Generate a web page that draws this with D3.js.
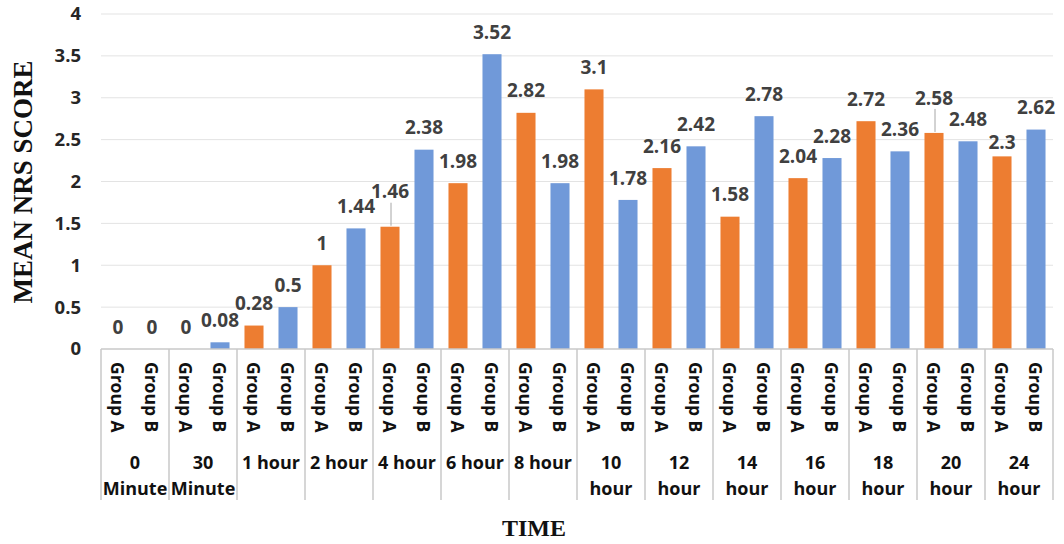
<!DOCTYPE html>
<html>
<head>
<meta charset="utf-8">
<script src="https://cdn.jsdelivr.net/npm/d3@7"></script>
<style>
  html, body { margin: 0; padding: 0; background: #fff; }
  svg { display: block; }
</style>
</head>
<body>
<svg id="chart" width="1064" height="544"></svg>
<script>
// ---- data ----
const categories = ["0\nMinute", "30\nMinute", "1 hour", "2 hour", "4 hour", "6 hour", "8 hour",
                    "10\nhour", "12\nhour", "14\nhour", "16\nhour", "18\nhour", "20\nhour", "24\nhour"];
const groups = ["Group A", "Group B"];
const groupA = [0, 0, 0.28, 1, 1.46, 1.98, 2.82, 3.1, 2.16, 1.58, 2.04, 2.72, 2.58, 2.3];
const groupB = [0, 0.08, 0.5, 1.44, 2.38, 3.52, 1.98, 1.78, 2.42, 2.78, 2.28, 2.36, 2.48, 2.62];
const yTicks = [0, 0.5, 1, 1.5, 2, 2.5, 3, 3.5, 4];
const yTitle = "MEAN NRS SCORE";
const xTitle = "TIME";
// manual label nudges (vertical, px) as in the source chart, with leader lines where moved up
const labelNudgeA = [0, 0, 0, 0, -13, 0, 0, 0, 0, 0, 0, 0, -13, 8];
const labelNudgeB = [0, 0, 0, 0, 0, 0, 0, 0, 0, 0, 0, 0, 0, 0];

const colors = { "Group A": "#ED7D31", "Group B": "#7099D9" };

const svg = d3.select("#chart");
const x = d3.scaleBand().domain(categories).range([101, 1053]).padding(0);
const xi = d3.scaleBand().domain(groups).range([0, x.bandwidth()]).paddingInner(0.44).paddingOuter(0.22);
const y = d3.scaleLinear().domain([0, 4]).range([349, 14]);

const labelFont = "'Open Sans', 'DejaVu Sans', sans-serif";

// gridlines
svg.append("g").selectAll("line").data(yTicks.filter(t => t > 0)).join("line")
  .attr("x1", 101).attr("x2", 1053)
  .attr("y1", d => y(d)).attr("y2", d => y(d))
  .attr("stroke", "#e3e3e3").attr("stroke-width", 1);

// y tick labels
svg.append("g").selectAll("text").data(yTicks).join("text")
  .attr("x", 81).attr("y", d => y(d)).attr("dy", "0.35em")
  .attr("text-anchor", "end")
  .attr("font-family", labelFont).attr("font-weight", 700).attr("font-size", 18.5)
  .attr("fill", "#262626")
  .text(d => String(d));

// bars
const rows = [];
categories.forEach((c, i) => {
  rows.push({ cat: c, grp: "Group A", v: groupA[i], nudge: labelNudgeA[i] });
  rows.push({ cat: c, grp: "Group B", v: groupB[i], nudge: labelNudgeB[i] });
});

svg.append("g").selectAll("rect").data(rows).join("rect")
  .attr("x", d => x(d.cat) + xi(d.grp))
  .attr("width", xi.bandwidth())
  .attr("y", d => y(d.v))
  .attr("height", d => y(0) - y(d.v))
  .attr("fill", d => colors[d.grp]);

// data labels
const lg = svg.append("g");
rows.forEach(d => {
  const cx = x(d.cat) + xi(d.grp) + xi.bandwidth() / 2;
  const cy = y(d.v) - 22 + d.nudge;
  lg.append("text")
    .attr("x", cx).attr("y", cy).attr("dy", "0.35em")
    .attr("text-anchor", "middle")
    .attr("font-family", labelFont).attr("font-weight", 700).attr("font-size", 19)
    .attr("fill", "#404040")
    .text(String(d.v));
  if (d.nudge < 0) {
    lg.append("line")
      .attr("x1", cx + 1).attr("x2", cx + 1)
      .attr("y1", cy + 11).attr("y2", y(d.v) - 1)
      .attr("stroke", "#a6a6a6").attr("stroke-width", 1);
  }
});

// axis line and category separators
svg.append("line")
  .attr("x1", 101).attr("x2", 1053).attr("y1", y(0)).attr("y2", y(0))
  .attr("stroke", "#c8c8c8").attr("stroke-width", 1.5);

const bounds = categories.map(c => x(c)).concat([x.range()[1]]);
svg.append("g").selectAll("line").data(bounds).join("line")
  .attr("x1", d => d).attr("x2", d => d)
  .attr("y1", y(0)).attr("y2", 500)
  .attr("stroke", "#c8c8c8").attr("stroke-width", 1.5);

// group labels (rotated)
svg.append("g").selectAll("text").data(rows).join("text")
  .attr("transform", d => `translate(${x(d.cat) + xi(d.grp) + xi.bandwidth() / 2 - 1},362) rotate(90)`)
  .attr("text-anchor", "start").attr("dy", "0.35em")
  .attr("font-family", labelFont).attr("font-weight", 700).attr("font-size", 17.5)
  .attr("fill", "#111")
  .text(d => d.grp);

// category labels
const cg = svg.append("g");
categories.forEach(c => {
  const lines = c.split("\n");
  const t = cg.append("text")
    .attr("text-anchor", "middle")
    .attr("font-family", labelFont).attr("font-weight", 700).attr("font-size", 18)
    .attr("fill", "#111");
  lines.forEach((ln, k) => {
    t.append("tspan").attr("x", x(c) + x.bandwidth() / 2).attr("y", 463 + k * 26).attr("dy", "0.35em").text(ln);
  });
});

// axis titles
svg.append("text")
  .attr("transform", "translate(23,182) rotate(-90)")
  .attr("text-anchor", "middle").attr("dy", "0.35em")
  .attr("font-family", "'Liberation Serif', 'Times New Roman', serif")
  .attr("font-weight", 700).attr("font-size", 27).attr("fill", "#111")
  .text(yTitle);

svg.append("text")
  .attr("x", 534).attr("y", 528).attr("dy", "0.35em")
  .attr("text-anchor", "middle")
  .attr("font-family", "'Liberation Serif', 'Times New Roman', serif")
  .attr("font-weight", 700).attr("font-size", 24).attr("fill", "#111")
  .text(xTitle);
</script>
</body>
</html>
